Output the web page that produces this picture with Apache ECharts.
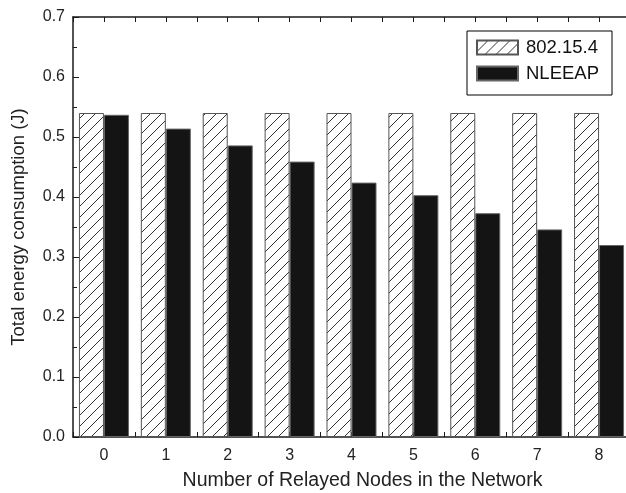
<!DOCTYPE html>
<html>
<head>
<meta charset="utf-8">
<script src="https://cdn.jsdelivr.net/npm/echarts@6/dist/echarts.min.js"></script>
<style>
  html, body { margin: 0; padding: 0; background: #fff; overflow: hidden; }
  #chart { width: 626px; height: 493px; }
</style>
</head>
<body>
<div id="chart"></div>
<script>
// Relayed node counts on the x axis
const relayedNodes = ['0', '1', '2', '3', '4', '5', '6', '7', '8'];
// Total energy consumption (J) per protocol
const ieee802154 = [0.54, 0.54, 0.54, 0.54, 0.54, 0.54, 0.54, 0.54, 0.54];
const nleeap = [0.537, 0.514, 0.486, 0.459, 0.424, 0.403, 0.373, 0.346, 0.320];
// Y-axis tick values
const yTicks = [0.0, 0.1, 0.2, 0.3, 0.4, 0.5, 0.6, 0.7];

// Diagonal hatch tile for the 802.15.4 bars
function hatchTile() {
  const c = document.createElement('canvas');
  c.width = 11; c.height = 11;
  const g = c.getContext('2d');
  g.fillStyle = '#ffffff';
  g.fillRect(0, 0, 11, 11);
  g.strokeStyle = '#333333';
  g.lineWidth = 1;
  g.beginPath();
  g.moveTo(-1, 12); g.lineTo(12, -1);
  g.moveTo(-12, 12); g.lineTo(1, -1);
  g.moveTo(10, 12); g.lineTo(23, -1);
  g.stroke();
  return c;
}

const FONT = 'Liberation Sans, Arial, sans-serif';
const axisColor = '#1a1a1a';
const textColor = '#222';

const chart = echarts.init(document.getElementById('chart'), null, { renderer: 'canvas' });

const catAxis = (pos, showLine, align, showLabel, name) => ({
  type: 'category',
  position: pos,
  data: relayedNodes,
  boundaryGap: true,
  axisLine: { show: showLine, lineStyle: { color: axisColor, width: 1.5 } },
  axisTick: { show: true, inside: true, length: 5, alignWithLabel: align, lineStyle: { color: axisColor, width: 1 } },
  axisLabel: { show: showLabel, color: textColor, fontSize: 16, fontFamily: FONT, margin: 11 },
  name: name || '',
  nameLocation: 'middle',
  nameGap: 34,
  nameTextStyle: { color: textColor, fontSize: 19.5, fontFamily: FONT, padding: [0, 0, 0, 22] },
  splitLine: { show: false }
});

chart.setOption({
  animation: false,
  backgroundColor: '#ffffff',
  grid: { left: 73, top: 17, bottom: 56, right: -4, containLabel: false, outerBoundsMode: 'none' },
  legend: {
    orient: 'vertical',
    left: 467,
    top: 31,
    padding: [7, 13, 12, 9],
    itemGap: 7,
    itemWidth: 41,
    itemHeight: 14,
    borderColor: '#000',
    borderWidth: 1,
    icon: 'rect',
    textStyle: { color: '#111', fontSize: 18.5, lineHeight: 18, fontFamily: FONT, padding: [0, 0, 0, 3] },
    data: ['802.15.4', 'NLEEAP']
  },
  xAxis: [
    catAxis('bottom', true, false, true, 'Number of Relayed Nodes in the Network'),
    catAxis('bottom', false, true, false),
    catAxis('top', true, false, false),
    catAxis('top', false, true, false)
  ],
  yAxis: {
    type: 'value',
    min: 0,
    max: 0.7,
    interval: 0.1,
    axisLine: { show: true, lineStyle: { color: axisColor, width: 1.5 } },
    axisTick: { show: true, inside: true, length: 6, lineStyle: { color: axisColor } },
    minorTick: { show: true, splitNumber: 2, length: 4, lineStyle: { color: axisColor } },
    axisLabel: {
      color: textColor, fontSize: 16, fontFamily: FONT, margin: 8,
      formatter: v => {
        const t = yTicks.find(k => Math.abs(k - v) < 1e-9);
        return (t !== undefined ? t : v).toFixed(1);
      }
    },
    splitLine: { show: false },
    name: 'Total energy consumption (J)',
    nameLocation: 'middle',
    nameGap: 45,
    nameTextStyle: { color: textColor, fontSize: 18.5, fontFamily: FONT }
  },
  series: [
    {
      name: '802.15.4',
      type: 'bar',
      xAxisIndex: 0,
      data: ieee802154,
      barWidth: 25,
      barGap: '0%',
      itemStyle: {
        color: { image: hatchTile(), repeat: 'repeat' },
        borderColor: '#555',
        borderWidth: 1
      }
    },
    {
      name: 'NLEEAP',
      type: 'bar',
      xAxisIndex: 0,
      data: nleeap,
      barWidth: 25,
      barGap: '0%',
      itemStyle: {
        color: '#141414',
        borderColor: '#666',
        borderWidth: 1
      }
    }
  ]
});
</script>
</body>
</html>
